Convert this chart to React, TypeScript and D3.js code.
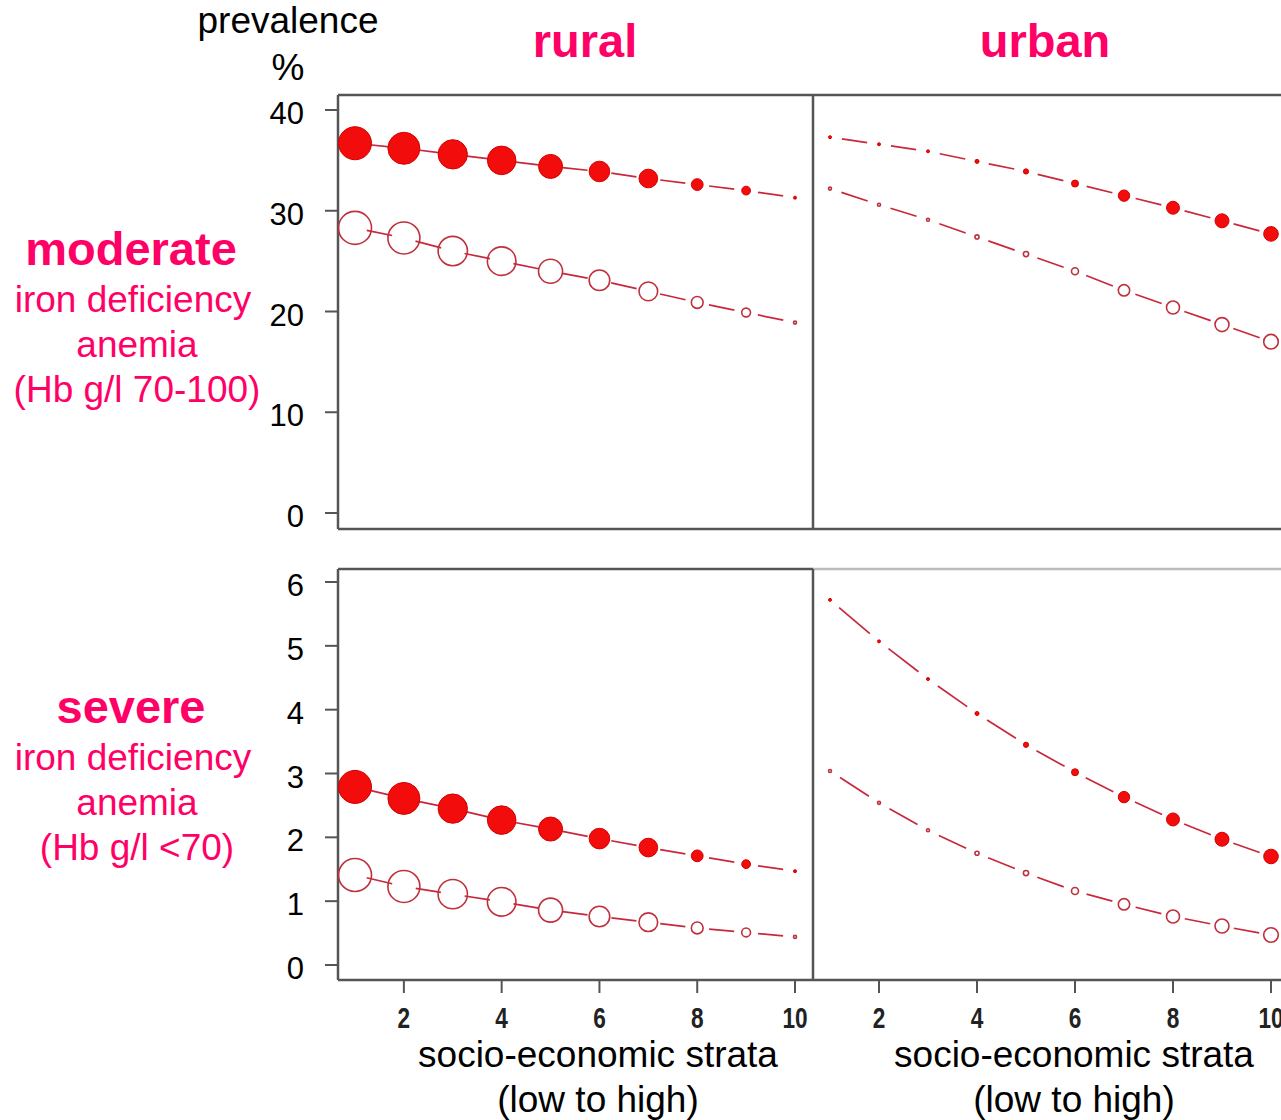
import React from "react";
import * as d3 from "d3";

const strata = [1, 2, 3, 4, 5, 6, 7, 8, 9, 10];
const xTickValues = [2, 4, 6, 8, 10];
const moderateTicks = [0, 10, 20, 30, 40];
const severeTicks = [0, 1, 2, 3, 4, 5, 6];

// point weights (share of sample per stratum), drawn as circle area
const ruralWeights = [100, 94, 79, 75, 53, 39, 32, 12.8, 7.1, 0.6];
const urbanWeights = [0.4, 0.5, 0.8, 1.5, 2.5, 4.5, 11.9, 15.5, 18, 19.6];

// moderate iron deficiency anemia, %
const moderateRuralFilled = [36.7, 36.2, 35.6, 35.0, 34.4, 33.9, 33.2, 32.6, 32.0, 31.3];
const moderateRuralOpen = [28.3, 27.3, 26.0, 25.0, 24.0, 23.1, 22.0, 20.9, 19.9, 18.9];
const moderateUrbanFilled = [37.3, 36.6, 35.9, 34.9, 33.9, 32.7, 31.5, 30.3, 29.0, 27.7];
const moderateUrbanOpen = [32.2, 30.6, 29.1, 27.4, 25.7, 24.0, 22.1, 20.4, 18.7, 17.0];

// severe iron deficiency anemia, %
const severeRuralFilled = [2.79, 2.61, 2.45, 2.27, 2.13, 1.98, 1.84, 1.71, 1.58, 1.47];
const severeRuralOpen = [1.41, 1.23, 1.11, 0.99, 0.86, 0.76, 0.67, 0.58, 0.51, 0.44];
const severeUrbanFilled = [5.72, 5.07, 4.48, 3.94, 3.45, 3.02, 2.63, 2.28, 1.97, 1.70];
const severeUrbanOpen = [3.04, 2.54, 2.11, 1.75, 1.44, 1.16, 0.95, 0.76, 0.61, 0.47];

const PINK = "#ff0066";
const FRAME = "#555";
const LINE = "#c8283c";
const FONT = "'Liberation Sans', Arial, sans-serif";

const xLeft = d3.scaleLinear().domain([1, 10]).range([355, 795]);
const xRight = d3.scaleLinear().domain([1, 10]).range([830, 1271]);
const yTop = d3.scaleLinear().domain([0, 40]).range([513, 110]);
const yBot = d3.scaleLinear().domain([0, 6]).range([965, 582]);
const rScale = d3.scaleSqrt().domain([0, 100]).range([0, 16.5]);

const GAP = 12;

function Series({ x, y, values, weights, filled }: any) {
  const pts = strata.map((s, i) => [x(s), y(values[i]), rScale(weights[i])]);
  const segs: any[] = [];
  for (let i = 0; i < pts.length - 1; i++) {
    const [x0, y0] = pts[i];
    const [x1, y1] = pts[i + 1];
    const dx = x1 - x0, dy = y1 - y0;
    const len = Math.hypot(dx, dy);
    if (len <= 2 * GAP) continue;
    const ux = dx / len, uy = dy / len;
    segs.push(
      <line key={"s" + i} x1={x0 + ux * GAP} y1={y0 + uy * GAP} x2={x1 - ux * GAP} y2={y1 - uy * GAP}
        stroke={LINE} strokeWidth={1.7} />
    );
  }
  return (
    <g>
      {segs}
      {pts.map(([px, py, r], i) => (
        <circle key={"c" + i} cx={px} cy={py} r={Math.max(r, 1.5)}
          fill={filled ? "#f20c0c" : "none"}
          stroke={filled ? "#d40000" : "#c0303c"}
          strokeWidth={filled ? 1 : 1.6} />
      ))}
    </g>
  );
}

function YAxis({ y, ticks }: any) {
  return (
    <g>
      {ticks.map((t: number) => (
        <g key={t}>
          <line x1={325} x2={338} y1={y(t)} y2={y(t)} stroke={FRAME} strokeWidth={2} />
          <text x={304} y={y(t) + 14} textAnchor="end" fontSize={31} fontFamily={FONT} fill="#000">{t}</text>
        </g>
      ))}
    </g>
  );
}

function XAxis({ x }: any) {
  return (
    <g>
      {xTickValues.map((t) => (
        <g key={t}>
          <line x1={x(t)} x2={x(t)} y1={980} y2={993} stroke={FRAME} strokeWidth={2} />
          <text x={x(t)} y={1028} textAnchor="middle" fontSize={29} fontWeight="bold" fontFamily={FONT}
            fill="#222" transform={`translate(${x(t)},0) scale(0.78,1) translate(${-x(t)},0)`}>{t}</text>
        </g>
      ))}
    </g>
  );
}

function PinkLabel({ title, lines, top }: any) {
  return (
    <g fill={PINK} fontFamily={FONT} textAnchor="middle">
      <text x={131} y={top} fontSize={47} fontWeight="bold">{title}</text>
      <text x={133} y={top + 47} fontSize={37}>{lines[0]}</text>
      <text x={137} y={top + 92} fontSize={37}>{lines[1]}</text>
      <text x={137} y={top + 137} fontSize={37}>{lines[2]}</text>
    </g>
  );
}

export default function App() {
  return (
    <svg width={1281} height={1120} style={{ display: "block", position: "absolute", left: 0, top: 0, background: "#fff" }}>
      <rect x={0} y={0} width={1281} height={1120} fill="#fff" />
      {/* header texts */}
      <g fontFamily={FONT} textAnchor="middle">
        <text x={288} y={33} fontSize={37} fill="#000">prevalence</text>
        <text x={288} y={80} fontSize={37} fill="#000">%</text>
        <text x={585} y={57} fontSize={47} fontWeight="bold" fill={PINK}>rural</text>
        <text x={1045} y={57} fontSize={47} fontWeight="bold" fill={PINK}>urban</text>
      </g>
      <PinkLabel title="moderate" lines={["iron deficiency", "anemia", "(Hb g/l 70-100)"]} top={265} />
      <PinkLabel title="severe" lines={["iron deficiency", "anemia", "(Hb g/l <70)"]} top={723} />

      {/* top panel frame */}
      <g stroke={FRAME} strokeWidth={2.5}>
        <line x1={338} x2={1281} y1={95} y2={95} />
        <line x1={338} x2={1281} y1={529} y2={529} />
        <line x1={338} x2={338} y1={95} y2={529} />
        <line x1={813} x2={813} y1={95} y2={529} />
      </g>
      {/* bottom panel frame */}
      <g strokeWidth={2.5}>
        <line x1={338} x2={813} y1={569} y2={569} stroke={FRAME} />
        <line x1={813} x2={1281} y1={569} y2={569} stroke="#bbb" />
        <line x1={338} x2={1281} y1={980} y2={980} stroke={FRAME} />
        <line x1={338} x2={338} y1={569} y2={980} stroke={FRAME} />
        <line x1={813} x2={813} y1={569} y2={980} stroke={FRAME} />
      </g>

      <YAxis y={yTop} ticks={moderateTicks} />
      <YAxis y={yBot} ticks={severeTicks} />
      <XAxis x={xLeft} />
      <XAxis x={xRight} />

      <Series x={xLeft} y={yTop} values={moderateRuralFilled} weights={ruralWeights} filled />
      <Series x={xLeft} y={yTop} values={moderateRuralOpen} weights={ruralWeights} filled={false} />
      <Series x={xRight} y={yTop} values={moderateUrbanFilled} weights={urbanWeights} filled />
      <Series x={xRight} y={yTop} values={moderateUrbanOpen} weights={urbanWeights} filled={false} />

      <Series x={xLeft} y={yBot} values={severeRuralFilled} weights={ruralWeights} filled />
      <Series x={xLeft} y={yBot} values={severeRuralOpen} weights={ruralWeights} filled={false} />
      <Series x={xRight} y={yBot} values={severeUrbanFilled} weights={urbanWeights} filled />
      <Series x={xRight} y={yBot} values={severeUrbanOpen} weights={urbanWeights} filled={false} />

      <g fontFamily={FONT} fontSize={37} textAnchor="middle" fill="#000">
        <text x={598} y={1067}>socio-economic strata</text>
        <text x={598} y={1112}>(low to high)</text>
        <text x={1074} y={1067}>socio-economic strata</text>
        <text x={1074} y={1112}>(low to high)</text>
      </g>
    </svg>
  );
}
